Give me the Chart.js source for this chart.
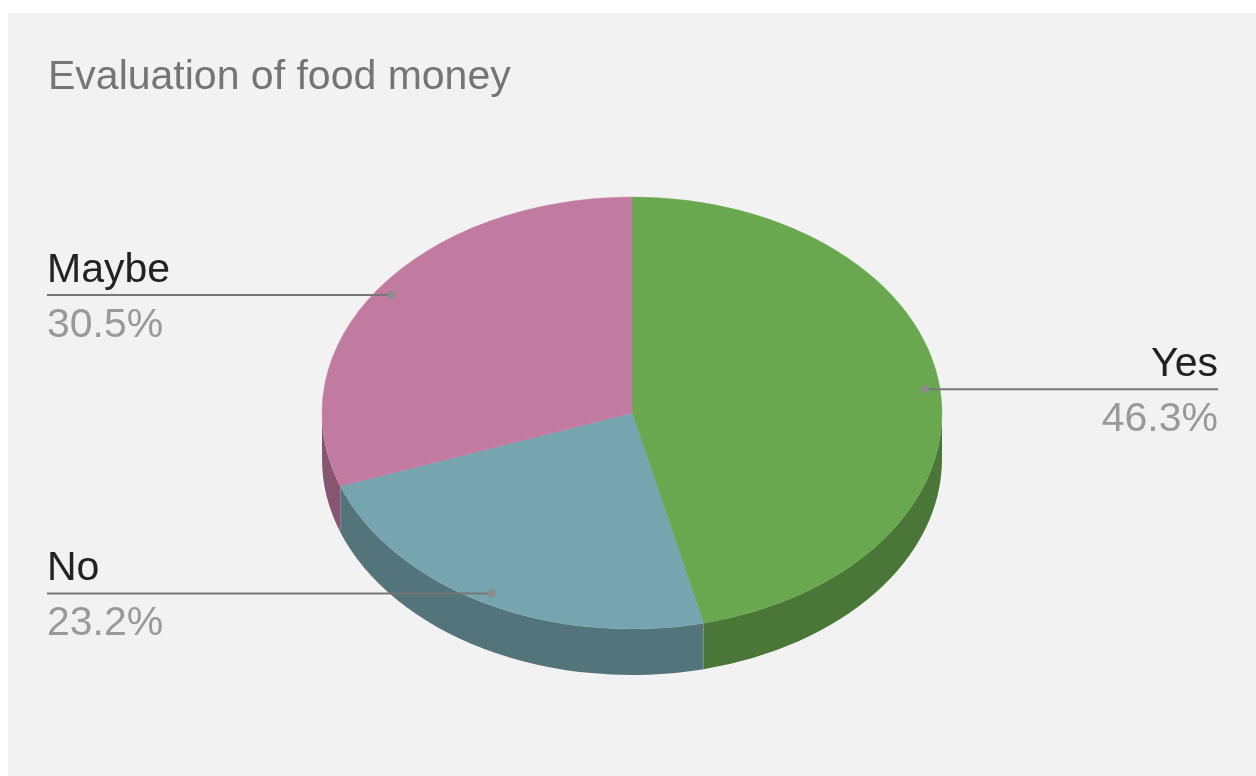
<!DOCTYPE html>
<html>
<head>
<meta charset="utf-8">
<title>Evaluation of food money</title>
<script src="https://cdn.jsdelivr.net/npm/chart.js@4/dist/chart.umd.min.js"></script>
<style>
  html, body { margin: 0; padding: 0; background: #fff; }
  #wrap {
    position: absolute;
    left: 8px;
    top: 13px;
    width: 1248px;
    height: 763px;
    background: #f2f2f2;
  }
</style>
</head>
<body>
<div id="wrap"><canvas id="FoodChart"></canvas></div>
<script>
const answers = ["Yes", "No", "Maybe"];
const shares = [46.3, 23.2, 30.5];

const topColors = ["#6aa84f", "#76a5af", "#c27ba0"];
const sideColors = ["#4a7637", "#53747b", "#885670"];

// top face of the pie is a squashed circle, the wall hangs under it
const PIE_CY = 400;
const TILT = 216 / 310;
const DEPTH = 46;
const LABEL_R = 0.95;
const LEFT_X = 39;
const RIGHT_X = 1210;
const FONT = "'Liberation Sans', Arial, sans-serif";

const pie3d = {
  id: "pie3d",
  beforeDatasetsDraw(chart) {
    const ctx = chart.ctx;
    const arcs = chart.getDatasetMeta(0).data;
    const cy = arcs[0].y;
    ctx.save();
    ctx.translate(0, PIE_CY - TILT * cy);
    ctx.scale(1, TILT);

    // outer wall, only the front half (0..PI) is visible
    const d = DEPTH / TILT;
    arcs.forEach((arc, i) => {
      const s = Math.max(arc.startAngle, 0);
      const e = Math.min(arc.endAngle, Math.PI);
      if (s >= e) return;
      ctx.beginPath();
      ctx.arc(arc.x, cy, arc.outerRadius, s, e);
      ctx.arc(arc.x, cy + d, arc.outerRadius, e, s, true);
      ctx.closePath();
      ctx.fillStyle = sideColors[i];
      ctx.fill();
    });
  },
  afterDatasetsDraw(chart) {
    chart.ctx.restore();
  },
};

const leaderLabels = {
  id: "leaderLabels",
  afterDraw(chart) {
    const ctx = chart.ctx;
    const arcs = chart.getDatasetMeta(0).data;
    const total = shares.reduce((a, b) => a + b, 0);

    arcs.forEach((arc, i) => {
      const mid = (arc.startAngle + arc.endAngle) / 2;
      const px = arc.x + LABEL_R * arc.outerRadius * Math.cos(mid);
      const py = PIE_CY + TILT * LABEL_R * arc.outerRadius * Math.sin(mid);
      const right = Math.cos(mid) >= 0;
      const edge = right ? RIGHT_X : LEFT_X;

      ctx.save();
      ctx.strokeStyle = "#777777";
      ctx.lineWidth = 2;
      ctx.beginPath();
      ctx.moveTo(px, py);
      ctx.lineTo(edge, py);
      ctx.stroke();

      ctx.fillStyle = "#8c8c8c";
      ctx.beginPath();
      ctx.arc(px, py, 4, 0, Math.PI * 2);
      ctx.fill();

      ctx.textAlign = right ? "right" : "left";
      ctx.textBaseline = "alphabetic";
      ctx.font = "41px " + FONT;
      ctx.fillStyle = "#222222";
      ctx.fillText(answers[i], edge, py - 13);
      ctx.fillStyle = "#999999";
      ctx.fillText(((shares[i] / total) * 100).toFixed(1) + "%", edge, py + 42);
      ctx.restore();
    });
  },
};

const ctx = document.getElementById("FoodChart").getContext("2d");
new Chart(ctx, {
  type: "pie",
  data: {
    labels: answers,
    datasets: [
      {
        data: shares,
        backgroundColor: topColors,
        borderColor: topColors,
        borderWidth: 0.5,
        clip: false,
      },
    ],
  },
  options: {
    responsive: true,
    maintainAspectRatio: false,
    animation: false,
    events: [],
    radius: 310,
    layout: { padding: { left: 40, right: 40, top: 0, bottom: 47 } },
    plugins: {
      legend: { display: false },
      tooltip: { enabled: false },
      title: {
        display: true,
        text: "Evaluation of food money",
        align: "start",
        color: "#757575",
        font: { family: FONT, size: 41, weight: "normal", lineHeight: 1.2 },
        padding: { top: 40, bottom: 10 },
      },
    },
  },
  plugins: [pie3d, leaderLabels],
});
</script>
</body>
</html>
